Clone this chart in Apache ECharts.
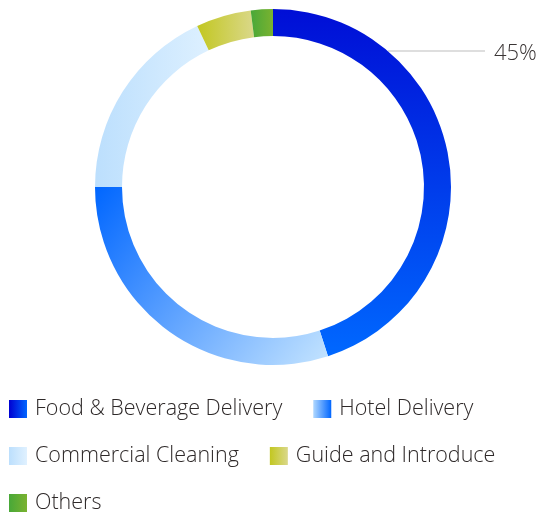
<!DOCTYPE html>
<html>
<head>
<meta charset="utf-8">
<script src="https://cdn.jsdelivr.net/npm/echarts@6/dist/echarts.min.js"></script>
<style>
html,body{margin:0;padding:0;background:#fff;}
#main{width:538px;height:513px;}
</style>
</head>
<body>
<div id="main"></div>
<script>
const names = ['Food & Beverage Delivery', 'Hotel Delivery', 'Commercial Cleaning', 'Guide and Introduce', 'Others'];
const values = [45, 30, 18, 5, 2];

const pieCenter = [273, 187];
const pieRadius = [151, 178];

// sector colours (gradient inside each slice)
function grad(x, y, x2, y2, c0, c1) {
	return new echarts.graphic.LinearGradient(x, y, x2, y2, [
		{ offset: 0, color: c0 },
		{ offset: 1, color: c1 }
	]);
}
const sliceColors = [
	grad(0, 0, 0, 1, '#000ed6', '#0068ff'),
	grad(0, 0, 1, 1, '#0066ff', '#c4e4ff'),
	grad(0, 0, 1, 0, '#bcdffd', '#ddf0ff'),
	grad(0, 0, 1, 0, '#c2c720', '#dad88a'),
	grad(0, 0, 1, 0, '#48a838', '#7ab230')
];
// legend icons use a left-to-right gradient
const iconColors = [
	grad(0, 0, 1, 0, '#0000d2', '#0066ff'),
	grad(0, 0, 1, 0, '#b0d8ff', '#0066ff'),
	grad(0, 0, 1, 0, '#bcdffd', '#e0f1ff'),
	grad(0, 0, 1, 0, '#c2c720', '#dad88a'),
	grad(0, 0, 1, 0, '#48a838', '#7ab230')
];

var myChart = echarts.init(document.getElementById('main'));
var option = {
	animation: false,
	textStyle: {
		fontFamily: 'Open Sans'
	},
	legend: {
		left: 9,
		top: 398,
		width: 525,
		padding: 0,
		icon: 'rect',
		itemWidth: 18,
		itemHeight: 18,
		itemGap: 25,
		textStyle: {
			fontSize: 21.5,
			fontWeight: 300,
			color: '#2e2929',
			lineHeight: 20,
			padding: [0, 6, 0, 3]
		},
		data: names.map((n, i) => ({ name: n, itemStyle: { color: iconColors[i] } }))
	},
	series: [
		{
			type: 'pie',
			center: pieCenter,
			radius: pieRadius,
			startAngle: 90,
			clockwise: true,
			avoidLabelOverlap: false,
			itemStyle: { borderWidth: 0 },
			label: { show: false },
			labelLine: { show: false },
			emphasis: { disabled: true },
			data: names.map((n, i) => {
				let d = { name: n, value: values[i], itemStyle: { color: sliceColors[i] } };
				if (i === 0) {
					d.label = {
						show: true,
						formatter: '{d}%',
						fontSize: 22,
						fontWeight: 300,
						color: '#3a3535'
					};
					d.labelLine = {
						show: true,
						length: 0,
						length2: 90,
						lineStyle: { color: '#d3d3d3', width: 1.5 }
					};
				}
				return d;
			}),
			labelLayout: function (params) {
				if (params.dataIndex !== 0) return {};
				// horizontal leader from the outer edge of the ring to the label
				const lineY = 51;
				const r = pieRadius[1];
				const dy = lineY - pieCenter[1];
				const x0 = pieCenter[0] + Math.sqrt(r * r - dy * dy);
				return {
					x: 494,
					y: 54,
					align: 'left',
					verticalAlign: 'middle',
					labelLinePoints: [[x0, lineY], [x0 + 1, lineY], [485, lineY]]
				};
			}
		}
	]
};
myChart.setOption(option);
</script>
</body>
</html>
